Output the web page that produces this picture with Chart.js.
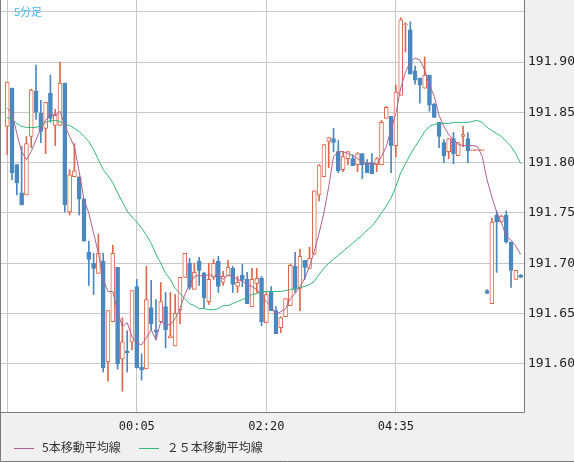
<!DOCTYPE html>
<html><head><meta charset="utf-8">
<script src="https://cdn.jsdelivr.net/npm/chart.js@4.4.1/dist/chart.umd.min.js"></script>
<style>
html,body{margin:0;padding:0;background:#f0f0f0;}
#wrap{position:relative;width:574px;height:462px;}
#title{position:absolute;left:14px;top:3px;font:11px "Noto Sans CJK JP",sans-serif;color:#40b8f0;}
#legend{position:absolute;left:14px;top:438px;font:12px "Noto Sans CJK JP",sans-serif;color:#333;display:flex;gap:18px;}
#legend span i{display:inline-block;width:20px;height:1px;vertical-align:middle;margin-right:8px;}
</style></head><body>
<div id="wrap"><canvas id="c" width="574" height="462"></canvas>
<div id="title">5分足</div>
<div id="legend"><span><i style="background:#b06090"></i>5本移動平均線</span><span><i style="background:#30b878"></i>２５本移動平均線</span></div>
</div>
<script>
const tickLabels = {27:"00:05",54:"02:20",81:"04:35"};
const priceTicks = [191.60,191.65,191.70,191.75,191.80,191.85,191.90,191.95];
const openP = [191.836,191.874,191.798,191.770,191.768,191.826,191.871,191.849,191.834,191.869,191.837,191.837,191.879,191.751,191.786,191.786,191.764,191.711,191.700,191.690,191.702,191.602,191.642,191.696,191.605,191.613,191.622,191.677,191.597,191.595,191.656,191.634,191.642,191.657,191.626,191.618,191.654,191.686,191.700,191.674,191.702,191.690,191.662,191.686,191.702,191.681,191.688,191.695,191.677,191.688,191.684,191.657,191.680,191.685,191.641,191.672,191.653,191.636,191.647,191.658,191.697,191.675,191.703,191.695,191.709,191.768,191.786,191.821,191.824,191.811,191.793,191.804,191.804,191.798,191.809,191.800,191.800,191.798,191.798,191.844,191.846,191.817,191.867,191.937,191.932,191.891,191.884,191.874,191.887,191.858,191.840,191.820,191.811,191.824,191.807,191.826,191.824,191.812,191.812,191.812,191.673,191.660,191.748,191.741,191.748,191.721,191.684,191.688];
const highP = [191.880,191.874,191.798,191.816,191.826,191.873,191.897,191.862,191.860,191.887,191.853,191.900,191.879,191.793,191.819,191.786,191.764,191.722,191.710,191.729,191.710,191.653,191.718,191.696,191.646,191.633,191.673,191.684,191.610,191.697,191.683,191.664,191.681,191.671,191.671,191.669,191.686,191.710,191.705,191.700,191.706,191.691,191.700,191.704,191.707,191.692,191.703,191.697,191.687,191.699,191.691,191.695,191.695,191.687,191.671,191.677,191.657,191.647,191.665,191.699,191.711,191.714,191.703,191.716,191.772,191.798,191.818,191.825,191.834,191.822,191.811,191.811,191.808,191.810,191.809,191.803,191.809,191.805,191.842,191.856,191.846,191.877,191.944,191.939,191.940,191.896,191.884,191.905,191.887,191.859,191.840,191.823,191.824,191.830,191.820,191.836,191.830,191.812,191.812,191.812,191.674,191.745,191.752,191.748,191.752,191.721,191.693,191.689];
const lowP = [191.808,191.783,191.768,191.758,191.768,191.815,191.843,191.820,191.809,191.840,191.817,191.837,191.751,191.748,191.786,191.748,191.722,191.678,191.669,191.690,191.592,191.583,191.642,191.595,191.573,191.592,191.614,191.596,191.584,191.595,191.634,191.624,191.642,191.616,191.626,191.618,191.640,191.686,191.674,191.674,191.678,191.656,191.659,191.684,191.671,191.678,191.688,191.671,191.671,191.677,191.660,191.657,191.671,191.638,191.641,191.653,191.630,191.631,191.647,191.658,191.671,191.653,191.684,191.695,191.709,191.762,191.786,191.795,191.811,191.790,191.791,191.798,191.797,191.791,191.784,191.790,191.789,191.791,191.798,191.844,191.790,191.806,191.867,191.910,191.888,191.878,191.859,191.874,191.851,191.845,191.815,191.800,191.804,191.799,191.807,191.816,191.800,191.812,191.812,191.812,191.670,191.660,191.691,191.741,191.720,191.676,191.684,191.686];
const closeP = [191.880,191.790,191.780,191.758,191.819,191.872,191.850,191.831,191.860,191.844,191.847,191.879,191.758,191.788,191.792,191.764,191.722,191.704,191.695,191.710,191.596,191.653,191.710,191.600,191.622,191.611,191.673,191.596,191.594,191.664,191.640,191.632,191.662,191.634,191.628,191.650,191.686,191.710,191.676,191.691,191.693,191.666,191.684,191.700,191.677,191.687,191.696,191.679,191.681,191.683,191.660,191.684,191.685,191.642,191.669,191.653,191.630,191.646,191.665,191.698,191.674,191.707,191.696,191.705,191.772,191.797,191.818,191.825,191.820,191.792,191.806,191.811,191.797,191.809,191.798,191.790,191.789,191.804,191.840,191.855,191.817,191.870,191.942,191.938,191.888,191.882,191.877,191.887,191.857,191.845,191.826,191.807,191.824,191.809,191.820,191.828,191.812,191.812,191.812,191.812,191.670,191.741,191.741,191.747,191.721,191.693,191.693,191.686];
const ma5 = [191.854,191.849,191.829,191.811,191.803,191.811,191.823,191.834,191.842,191.849,191.847,191.851,191.837,191.826,191.816,191.791,191.763,191.750,191.730,191.710,191.684,191.672,191.672,191.652,191.637,191.641,191.627,191.621,191.619,191.626,191.634,191.624,191.642,191.639,191.639,191.645,191.655,191.669,191.679,191.687,191.688,191.687,191.689,191.687,191.689,191.684,191.688,191.687,191.684,191.682,191.679,191.677,191.674,191.668,191.662,191.657,191.649,191.652,191.655,191.665,191.670,191.677,191.685,191.697,191.712,191.730,191.750,191.776,191.806,191.811,191.811,191.809,191.807,191.804,191.801,191.799,191.799,191.799,191.806,191.816,191.833,191.849,191.874,191.890,191.900,191.904,191.902,191.892,191.877,191.866,191.847,191.836,191.828,191.823,191.818,191.817,191.817,191.817,191.816,191.806,191.783,191.766,191.751,191.740,191.727,191.723,191.717,191.709];
const ma25 = [191.845,191.843,191.839,191.836,191.835,191.835,191.835,191.837,191.840,191.842,191.842,191.841,191.838,191.837,191.834,191.831,191.826,191.821,191.813,191.803,191.793,191.787,191.780,191.770,191.761,191.752,191.746,191.741,191.735,191.728,191.720,191.709,191.700,191.690,191.684,191.675,191.670,191.665,191.660,191.658,191.655,191.655,191.654,191.654,191.655,191.658,191.658,191.660,191.662,191.664,191.666,191.669,191.670,191.672,191.672,191.672,191.672,191.672,191.673,191.674,191.675,191.676,191.677,191.679,191.682,191.689,191.695,191.700,191.704,191.708,191.712,191.716,191.720,191.724,191.728,191.733,191.737,191.743,191.750,191.757,191.765,191.776,191.790,191.799,191.808,191.816,191.823,191.831,191.836,191.838,191.839,191.839,191.839,191.840,191.840,191.840,191.840,191.841,191.842,191.840,191.835,191.832,191.829,191.826,191.821,191.816,191.809,191.799];

const UP='#e0674a', DN='#4a88c0';
const idx = openP.map((_,i)=>i);
const up = idx.map(i=>closeP[i]>=openP[i]);
const bodies = idx.map(i=>({x:i,y:[openP[i],closeP[i]]}));
const wicks = idx.map(i=>({x:i,y:[lowP[i],highP[i]]}));

const framePlugin={id:'frame',afterDraw(c){const a=c.chartArea,g=c.ctx;g.save();g.strokeStyle='#7a7a7a';g.lineWidth=1;
g.beginPath();g.moveTo(a.left-0.5,a.top);g.lineTo(a.left-0.5,a.bottom+0.5);g.lineTo(a.right+0.5,a.bottom+0.5);g.lineTo(a.right+0.5,a.top);g.stroke();
g.beginPath();g.moveTo(0.5,0);g.lineTo(0.5,461.5);g.lineTo(574,461.5);g.stroke();g.restore();},
beforeDraw(c){const a=c.chartArea,g=c.ctx;g.save();g.fillStyle='#fff';g.fillRect(a.left,a.top,a.right-a.left,a.bottom-a.top);g.restore();}};

new Chart(document.getElementById('c'),{
 type:'bar',
 data:{datasets:[
  {type:'line',data:idx.map(i=>({x:i,y:ma5[i]})),borderColor:'#b06090',borderWidth:1,pointRadius:0,order:0},
  {type:'line',data:idx.map(i=>({x:i,y:ma25[i]})),borderColor:'#30b878',borderWidth:1,pointRadius:0,order:1},
  {data:bodies,backgroundColor:idx.map(i=>up[i]?'#ffffff':DN),borderColor:idx.map(i=>up[i]?UP:DN),borderWidth:1,borderSkipped:false,barThickness:4,minBarLength:1,grouped:false,order:2},
  {data:wicks,backgroundColor:idx.map(i=>up[i]?UP:DN),borderWidth:0,barThickness:1,grouped:false,order:3}
 ]},
 options:{responsive:false,animation:false,devicePixelRatio:1,
  layout:{padding:{left:1,top:0,right:0,bottom:0}},
  plugins:{legend:{display:false},tooltip:{enabled:false}},
  scales:{
   x:{type:'linear',offset:false,min:-1.3,max:107.7,
    afterBuildTicks:s=>{s.ticks=[0,27,54,81].map(v=>({value:v}));},
    afterFit:s=>{s.height=50;s.paddingLeft=0;s.paddingRight=0;},
    grid:{color:'#c8c8c8',drawTicks:false,offset:false},border:{display:false},
    ticks:{padding:8,maxRotation:0,autoSkip:false,color:'#222',font:{family:'DejaVu Sans Mono',size:12},callback:v=>tickLabels[v]||''}},
   y:{position:'right',min:191.5523,max:191.9616,
    afterBuildTicks:s=>{s.ticks=priceTicks.map(v=>({value:v}));},
    afterFit:s=>{s.width=50;s.paddingTop=0;s.paddingBottom=0;},
    grid:{color:'#c8c8c8',drawTicks:false},border:{display:false},
    ticks:{padding:4,color:'#222',font:{family:'DejaVu Sans Mono',size:13},callback:v=>v>191.92?'':v.toFixed(2)}}
  }},
 plugins:[framePlugin]
});
</script></body></html>
